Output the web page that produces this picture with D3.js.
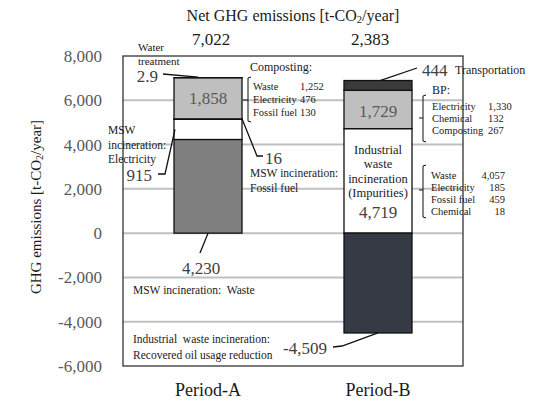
<!DOCTYPE html>
<html><head><meta charset="utf-8">
<script src="https://cdn.jsdelivr.net/npm/d3@7"></script>
<style>body{margin:0;background:#fff}svg{display:block}text{font-family:"Liberation Serif","Times New Roman",serif}</style>
</head><body><svg id="c" width="539" height="401"></svg>
<script>
const categories = ["Period-A", "Period-B"];
const netTotals = [7022, 2383];
const yTicks = [-6000, -4000, -2000, 0, 2000, 4000, 6000, 8000];
// Period-A stack (bottom to top)
const segA_names = ["MSW incineration: Waste", "MSW incineration: Electricity", "MSW incineration: Fossil fuel", "Composting", "Water treatment"];
const segA_values = [4230, 915, 16, 1858, 2.9];
const segA_colors = ["#7f7f7f", "#ffffff", "#000000", "#bfbfbf", "#000000"];
// Period-B positive stack (bottom to top) and negative part
const segB_names = ["Industrial waste incineration (Impurities)", "BP", "Transportation"];
const segB_values = [4719, 1729, 444];
const segB_colors = ["#ffffff", "#bfbfbf", "#3a3a3a"];
const negB_names = ["Recovered oil usage reduction"];
const negB_values = [-4509];
const negB_colors = ["#363a45"];
// breakdown lists
const compostItems = ["Waste", "Electricity", "Fossil fuel"];
const compostVals = ["1,252", "476", "130"];
const bpItems = ["Electricity", "Chemical", "Composting"];
const bpVals = ["1,330", "132", "267"];
const impItems = ["Waste", "Electricity", "Fossil fuel", "Chemical"];
const impVals = ["4,057", "185", "459", "18"];

const svg = d3.select("#c");
const L = 123, R = 463, T = 56, B = 366;
const y = d3.scaleLinear().domain([-6000, 8000]).range([B, T]);
const x = d3.scalePoint().domain(categories).range([L, R]).padding(0.5);
const bw = 68;
const fmt = v => d3.format(",")(v).replace("\u2212", "-");

// gridlines
svg.append("g").selectAll("line").data(yTicks.filter(v => v > -6000 && v < 8000)).join("line")
  .attr("x1", L).attr("x2", R).attr("y1", d => y(d)).attr("y2", d => y(d))
  .attr("stroke", "#c0c0c0").attr("stroke-width", 2);

// axis
const ax = svg.append("g").attr("transform", `translate(${L},0)`)
  .call(d3.axisLeft(y).tickValues(yTicks).tickSize(0).tickPadding(21).tickFormat(fmt));
ax.select(".domain").remove();
ax.selectAll("text").attr("font-size", 17).attr("fill", "#595959")
  .style("font-family", '"Liberation Serif",serif');

// bars
function stack(values, colors, start) {
  let acc = start; const out = [];
  values.forEach((v, i) => { out.push({y0: acc, y1: acc + v, c: colors[i]}); acc += v; });
  return out;
}
const aSegs = stack(segA_values, segA_colors, 0);
const bSegs = stack(segB_values, segB_colors, 0).concat(stack(negB_values, negB_colors, 0));
function drawBars(segs, cat) {
  svg.append("g").selectAll("rect").data(segs).join("rect")
    .attr("x", x(cat) - bw / 2).attr("width", bw)
    .attr("y", d => y(Math.max(d.y0, d.y1)))
    .attr("height", d => Math.abs(y(d.y0) - y(d.y1)))
    .attr("fill", d => d.c).attr("stroke", "#111").attr("stroke-width", 1.3);
}
drawBars(aSegs, categories[0]);
drawBars(bSegs, categories[1]);

// plot frame
svg.append("rect").attr("x", L).attr("y", T).attr("width", R - L).attr("height", B - T)
  .attr("fill", "none").attr("stroke", "#333").attr("stroke-width", 1.3);

function txt(t, px, py, size, anchor, fill) {
  return svg.append("text").attr("x", px).attr("y", py).attr("font-size", size)
    .attr("text-anchor", anchor || "start").attr("dominant-baseline", "central")
    .attr("fill", fill || "#1a1a1a").text(t);
}
function path(pts, w) {
  svg.append("path").attr("d", d3.line()(pts)).attr("fill", "none")
    .attr("stroke", "#111").attr("stroke-width", w || 1.3);
}
const big = 17, numCol = "#404040";

// title
const tt = svg.append("text").attr("x", 293).attr("y", 15).attr("font-size", 16)
  .attr("text-anchor", "middle").attr("dominant-baseline", "central").attr("fill", "#1a1a1a");
tt.append("tspan").text("Net GHG emissions [t-CO");
tt.append("tspan").attr("font-size", 10.5).attr("dy", 4).text("2");
tt.append("tspan").attr("dy", -4).text("/year]");

// net totals
categories.forEach((c, i) => txt(fmt(netTotals[i]), x(c) + (i ? -8 : 3), 39, big, "middle", "#1a1a1a"));

// y-axis title
const yt = svg.append("text").attr("transform", "translate(36,207) rotate(-90)")
  .attr("font-size", 15).attr("text-anchor", "middle").attr("dominant-baseline", "central").attr("fill", "#1a1a1a");
yt.append("tspan").text("GHG emissions [t-CO");
yt.append("tspan").attr("font-size", 10).attr("dy", 3).text("2");
yt.append("tspan").attr("dy", -3).text("/year]");

// category labels
categories.forEach(c => txt(c, x(c), 390, 18, "middle", "#1a1a1a"));

const xa = x(categories[0]), xb = x(categories[1]);
const aL = xa - bw / 2, aR = xa + bw / 2, bL = xb - bw / 2, bR = xb + bw / 2;

// Period-A annotations
txt("Water", 138, 47, 11);
txt("treatment", 138, 60.5, 11);
txt(String(segA_values[4]), 158, 76, big, "end", numCol);
path([[163, 74], [xa - 10, y(aSegs[4].y1) - 0.5]]);
txt(fmt(segA_values[3]), xa, y((aSegs[3].y0 + aSegs[3].y1) / 2), big, "middle", "#595959");
txt("MSW", 108, 130, 11.5);
txt("incineration:", 108, 145, 11.5);
txt("Electricity", 108, 159, 11.5);
txt(fmt(segA_values[1]), 152, 175, big, "end", numCol);
path([[158, 174], [165, 174], [aL + 1, y((aSegs[1].y0 + aSegs[1].y1) / 2)]]);
txt(fmt(segA_values[2]), 265, 158, big, "start", numCol);
path([[aR, y(aSegs[2].y1)], [257, 156], [263, 156]]);
txt("MSW incineration:", 250, 173, 11.5);
txt("Fossil fuel", 250, 188, 11.5);
txt("Composting:", 250, 67, 12);
path([[251, 77], [248, 78], [248, 121], [251, 122]], 1);
path([[243, 100], [248, 100]], 1);
compostItems.forEach((t, i) => { txt(t, 253, 86 + i * 13, 10.5); txt(compostVals[i], 300, 86 + i * 13, 10.5); });
txt(fmt(segA_values[0]), 201, 268, big, "middle", numCol);
path([[200, 253], [xa, y(0)]]);
txt("MSW incineration:  Waste", 133, 290, 11.5).style("white-space", "pre");

// Period-B annotations
txt(fmt(segB_values[2]), 422, 70, big, "start", numCol);
txt("Transportation", 455, 70, 12);
path([[417, 68], [xb + 2, y(bSegs[2].y1)]]);
txt(fmt(segB_values[1]), xb, y((bSegs[1].y0 + bSegs[1].y1) / 2) + 2, big, "middle", "#595959");
txt("BP:", 432, 90, 12);
path([[426, 95], [423, 96], [423, 141], [426, 142]], 1);
path([[419, 118], [423, 118]], 1);
bpItems.forEach((t, i) => { txt(t, 432, 106 + i * 12, 10.5); txt(bpVals[i], 488, 106 + i * 12, 10.5); });
["Industrial", "waste", "incineration", "(Impurities)"].forEach((t, i) => txt(t, xb, 150 + i * 14.3, 12.5, "middle"));
txt(fmt(segB_values[0]), xb, 212, big, "middle", numCol);
path([[426, 165], [423, 166], [423, 217], [426, 218]], 1);
path([[419, 190], [423, 190]], 1);
impItems.forEach((t, i) => { txt(t, 431, 175 + i * 12.3, 10.5); txt(impVals[i], 505, 175 + i * 12.3, 10.5, "end"); });
txt(fmt(negB_values[0]), 327, 348, big, "end", numCol);
path([[333, 347], [342, 346], [xb, y(negB_values[0])]]);
txt("Industrial  waste incineration:", 133, 339, 11.5).style("white-space", "pre");
txt("Recovered oil usage reduction", 133, 355, 11.5);
</script></body></html>
